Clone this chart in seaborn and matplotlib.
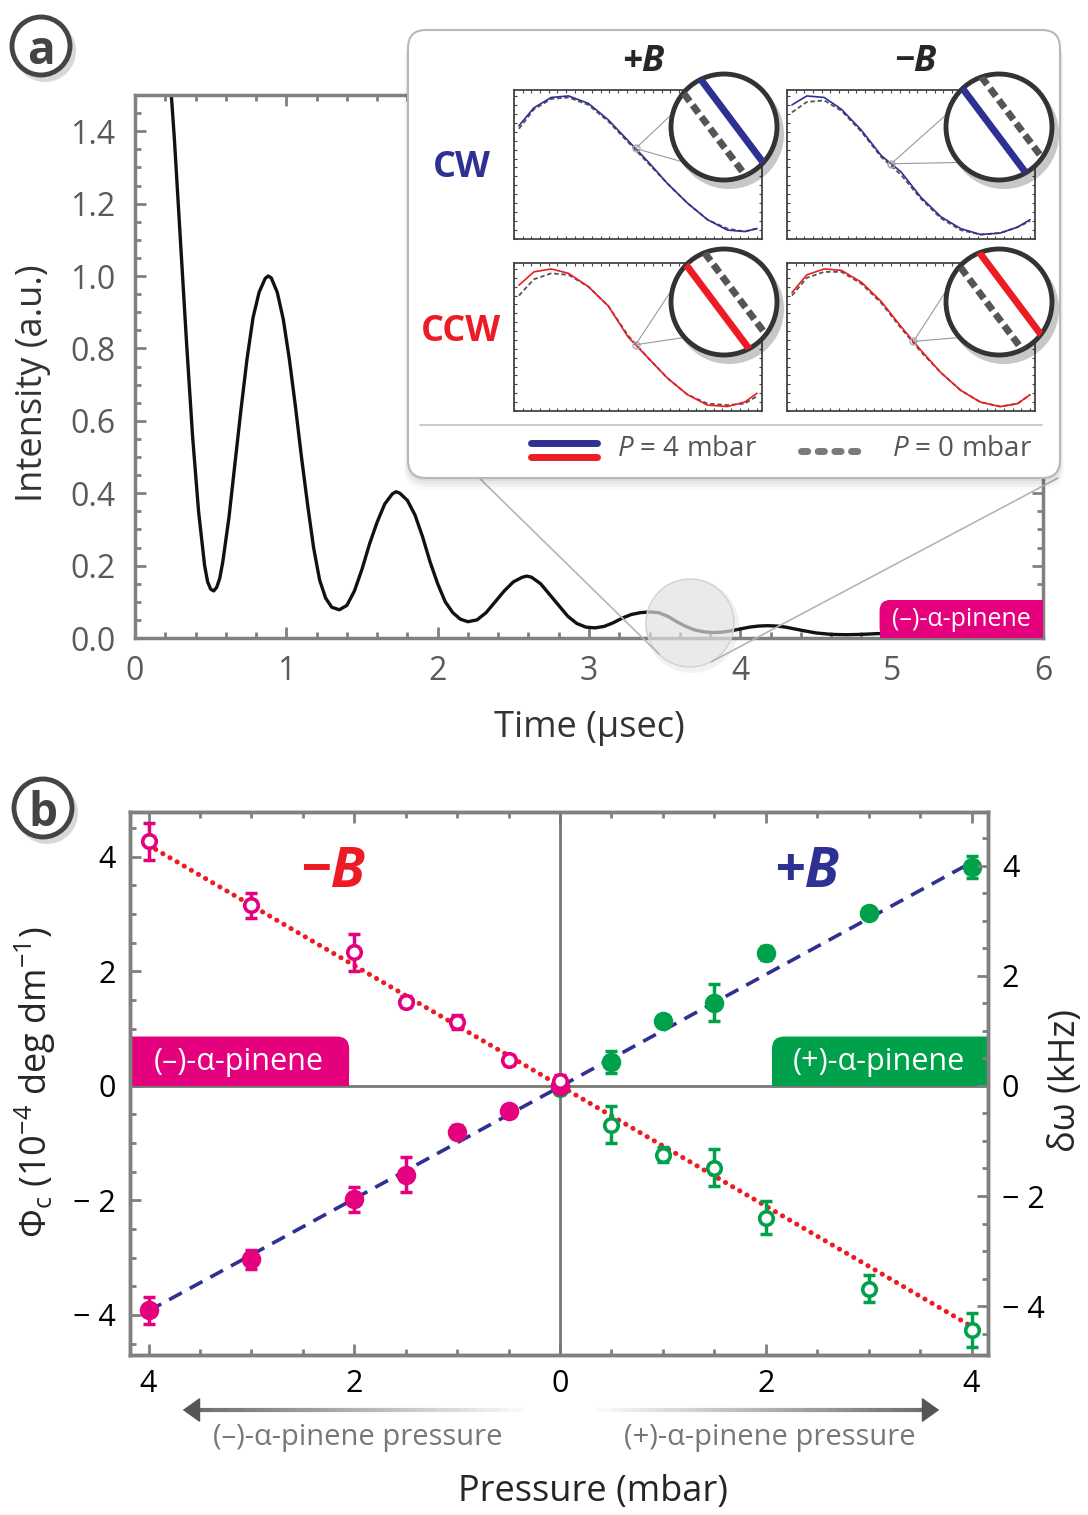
import numpy as np
import matplotlib
matplotlib.use("Agg")
import matplotlib.pyplot as plt
import seaborn as sns
from matplotlib.patches import FancyBboxPatch, Rectangle, Circle, ConnectionPatch, FancyArrowPatch
from matplotlib.lines import Line2D
from matplotlib.collections import LineCollection
from matplotlib.ticker import MultipleLocator, FixedLocator, FixedFormatter

sns.set_style('ticks')
plt.rcParams['font.family'] = ['Open Sans', 'DejaVu Sans']
plt.rcParams['mathtext.fontset'] = 'custom'
plt.rcParams['mathtext.rm'] = 'Open Sans'
plt.rcParams['mathtext.it'] = 'Open Sans:italic'
plt.rcParams['mathtext.bf'] = 'Open Sans:bold'

# ---- panel a : decay trace ----
time_us = [0.22, 0.26, 0.30, 0.34, 0.38, 0.42, 0.46, 0.48, 0.50, 0.52,
           0.54, 0.56, 0.58, 0.62, 0.66, 0.70, 0.74, 0.78, 0.82, 0.86,
           0.88, 0.90, 0.94, 0.98, 1.02, 1.06, 1.10, 1.14, 1.18, 1.22,
           1.26, 1.30, 1.35, 1.40, 1.45, 1.50, 1.55, 1.60, 1.65, 1.70,
           1.725, 1.75, 1.80, 1.85, 1.90, 1.95, 2.00, 2.05, 2.10, 2.15,
           2.20, 2.26, 2.32, 2.38, 2.44, 2.50, 2.56, 2.59, 2.62, 2.68,
           2.74, 2.80, 2.86, 2.92, 2.98, 3.04, 3.10, 3.16, 3.22, 3.28,
           3.34, 3.40, 3.46, 3.52, 3.58, 3.64, 3.70, 3.76, 3.82, 3.88,
           3.94, 4.00, 4.06, 4.12, 4.18, 4.24, 4.30, 4.36, 4.42, 4.50,
           4.60, 4.70, 4.80, 4.90, 5.00, 5.10]
intensity = [1.62, 1.38, 1.10, 0.82, 0.56, 0.35, 0.20, 0.155, 0.135, 0.13,
             0.14, 0.165, 0.21, 0.33, 0.48, 0.63, 0.77, 0.885, 0.955, 0.993,
             1.00, 0.995, 0.955, 0.88, 0.77, 0.64, 0.50, 0.37, 0.25, 0.16,
             0.11, 0.085, 0.078, 0.09, 0.13, 0.19, 0.26, 0.32, 0.37, 0.398,
             0.404, 0.40, 0.38, 0.34, 0.28, 0.21, 0.15, 0.10, 0.07, 0.052,
             0.045, 0.05, 0.07, 0.10, 0.13, 0.155, 0.168, 0.171, 0.168, 0.15,
             0.12, 0.09, 0.06, 0.04, 0.03, 0.028, 0.032, 0.042, 0.055, 0.065,
             0.07, 0.072, 0.07, 0.06, 0.045, 0.032, 0.022, 0.017, 0.015, 0.016,
             0.02, 0.025, 0.03, 0.033, 0.034, 0.033, 0.03, 0.025, 0.02, 0.014,
             0.01, 0.009, 0.01, 0.012, 0.013, 0.013]
a_yticks = [0.0, 0.2, 0.4, 0.6, 0.8, 1.0, 1.2, 1.4]

# ---- inset traces (normalised to each small frame) ----
inset_x = [0.02, 0.08, 0.15, 0.22, 0.30, 0.38, 0.46, 0.54, 0.62, 0.70, 0.78, 0.86, 0.93, 0.98]
cw_pB_4 = [0.76, 0.88, 0.95, 0.96, 0.91, 0.80, 0.66, 0.52, 0.37, 0.24, 0.13, 0.06, 0.05, 0.07]
cw_pB_0 = [0.74, 0.87, 0.94, 0.95, 0.90, 0.79, 0.65, 0.51, 0.37, 0.24, 0.13, 0.07, 0.05, 0.07]
cw_mB_4 = [0.90, 0.96, 0.95, 0.87, 0.73, 0.56, 0.45, 0.28, 0.15, 0.07, 0.03, 0.04, 0.08, 0.13]
cw_mB_0 = [0.85, 0.92, 0.93, 0.86, 0.72, 0.55, 0.43, 0.27, 0.14, 0.06, 0.03, 0.04, 0.08, 0.12]
ccw_pB_4 = [0.85, 0.94, 0.96, 0.93, 0.84, 0.71, 0.50, 0.36, 0.22, 0.11, 0.04, 0.03, 0.06, 0.12]
ccw_pB_0 = [0.78, 0.89, 0.93, 0.92, 0.84, 0.71, 0.51, 0.36, 0.22, 0.11, 0.05, 0.04, 0.05, 0.10]
ccw_mB_4 = [0.80, 0.92, 0.96, 0.95, 0.87, 0.74, 0.57, 0.41, 0.26, 0.14, 0.06, 0.03, 0.05, 0.11]
ccw_mB_0 = [0.78, 0.90, 0.94, 0.94, 0.86, 0.73, 0.56, 0.40, 0.26, 0.14, 0.06, 0.03, 0.05, 0.11]

# ---- panel b : circular birefringence vs pressure ----
neg_p = [-4, -3, -2, -1.5, -1, -0.5, 0]
neg_minusB = [4.27, 3.15, 2.33, 1.47, 1.12, 0.45, 0.08]
neg_minusB_err = [0.32, 0.22, 0.32, 0.10, 0.12, 0.08, 0.10]
neg_plusB = [-3.92, -3.03, -1.98, -1.55, -0.80, -0.44, 0.0]
neg_plusB_err = [0.24, 0.17, 0.22, 0.30, 0.12, 0.06, 0.05]
pos_p = [0, 0.5, 1, 1.5, 2, 3, 4]
pos_plusB = [0.0, 0.42, 1.13, 1.45, 2.32, 3.02, 3.82]
pos_plusB_err = [0.08, 0.19, 0.10, 0.32, 0.12, 0.06, 0.19]
pos_minusB = [-0.05, -0.68, -1.20, -1.43, -2.30, -3.54, -4.26]
pos_minusB_err = [0.10, 0.32, 0.13, 0.32, 0.28, 0.23, 0.30]
fit_p = [-4, 4]
fit_plusB = [-3.93, 3.90]
fit_minusB = [4.20, -4.20]
b_xticks = [-4, -2, 0, 2, 4]
b_xlabels = ['4', '2', '0', '2', '4']
b_yticks = [-4, -2, 0, 2, 4]
b_ylabels = ['\u2212 4', '\u2212 2', '0', '2', '4']

NAVY = '#2E3192'
RED = '#ED1C24'
MAG = '#E5007E'
GRN = '#00A14B'
GREY = '#808080'

W, H = 1088, 1515


def fx(x):
    return x / W


def fy(y):
    return 1 - y / H


def box(x0, y0, x1, y1):
    return [fx(x0), fy(y1), (x1 - x0) / W, (y1 - y0) / H]


def style_axis(ax, color=GREY):
    for s in ax.spines.values():
        s.set_color(color)
        s.set_linewidth(2.5)
    ax.tick_params(which='both', direction='in', color=color, width=2,
                   top=True, right=True)
    ax.tick_params(which='major', length=8)
    ax.tick_params(which='minor', length=4.5)


fig = plt.figure(figsize=(W / 100, H / 100), dpi=100)
cin = fig.dpi_scale_trans

# ================= panel a =================
ax_a = fig.add_axes(box(135, 95, 1043, 638))
sns.lineplot(x=time_us, y=intensity, ax=ax_a, color='#111111', lw=2.4)
ax_a.set_xlim(0, 6)
ax_a.set_ylim(0, 1.5)
ax_a.xaxis.set_major_locator(MultipleLocator(1))
ax_a.xaxis.set_minor_locator(MultipleLocator(0.2))
ax_a.yaxis.set_major_locator(FixedLocator(a_yticks))
ax_a.yaxis.set_major_formatter(FixedFormatter([f'{v:.1f}' for v in a_yticks]))
ax_a.yaxis.set_minor_locator(MultipleLocator(0.05))
style_axis(ax_a)
ax_a.tick_params(labelsize=23, labelcolor='#5a5a5a')
ax_a.tick_params(axis='y', pad=14)
ax_a.tick_params(axis='x', pad=12)
ax_a.set_xlabel('')
ax_a.set_ylabel('')
fig.text(fx(589), fy(728), 'Time (\u03bcsec)', ha='center', va='center',
         fontsize=26, color='#333333')
fig.text(fx(33), fy(383), 'Intensity (a.u.)', ha='center', va='center',
         fontsize=26, color='#333333', rotation=90)

# pinene tag in panel a
ax_a.add_patch(FancyBboxPatch((4.92, 0), 1.5, 0.105,
                              boxstyle='round,pad=0,rounding_size=0.07',
                              mutation_aspect=0.419, fc=MAG, ec='none', zorder=4))
ax_a.add_patch(Rectangle((4.92, 0), 1.5, 0.05, fc=MAG, ec='none', zorder=4))
ax_a.text(5.46, 0.05, '(\u2013)-\u03b1-pinene', color='white', fontsize=18,
          ha='center', va='center', zorder=5)

# magnifier circle on the trace
fig.add_artist(Circle((6.92, (H - 626) / 100), 0.47, transform=cin,
                      fc=(0.5, 0.5, 0.5, 0.10), ec='none', zorder=2))
fig.add_artist(Circle((6.90, (H - 623) / 100), 0.44, transform=cin,
                      fc=(0.90, 0.90, 0.90, 0.65), ec=(0.82, 0.82, 0.82), lw=1, zorder=2))
for (x0, y0), (x1, y1) in [((420, 420), (659, 654)), ((1058, 478), (711, 662))]:
    fig.add_artist(Line2D([fx(x0), fx(x1)], [fy(y0), fy(y1)], transform=fig.transFigure,
                          color='#b5b5b5', lw=1.2, zorder=3))

# ================= inset =================
for k, a in enumerate([0.05, 0.04, 0.03, 0.02]):
    d = 0.03 + 0.03 * k
    fig.add_artist(FancyBboxPatch((4.08 - d * 0.3, (H - 478) / 100 - d), 6.52 + d * 0.6, 4.48,
                                  boxstyle='round,pad=0,rounding_size=0.2', transform=cin,
                                  fc=(0, 0, 0, a), ec='none', zorder=4))
fig.add_artist(FancyBboxPatch((4.08, (H - 478) / 100), 6.52, 4.48,
                              boxstyle='round,pad=0,rounding_size=0.18', transform=cin,
                              fc='white', ec='#b8b8b8', lw=1.5, zorder=5))

panels = [
    ((514, 90, 762, 239), cw_pB_4, cw_pB_0, NAVY, 0.49, (724, 127), 10, -12),
    ((787, 90, 1035, 239), cw_mB_4, cw_mB_0, NAVY, 0.42, (999, 127), -6, 16),
    ((514, 263, 762, 411), ccw_pB_4, ccw_pB_0, RED, 0.49, (724, 302), -8, 14),
    ((787, 263, 1035, 411), ccw_mB_4, ccw_mB_0, RED, 0.51, (999, 302), 14, -10),
]
for (x0, y0, x1, y1), ys, y0s, col, sx, (cx, cy), off_s, off_d in panels:
    ax = fig.add_axes(box(x0, y0, x1, y1), zorder=6)
    sns.lineplot(x=inset_x, y=y0s, ax=ax, color='#555555', lw=1.3,
                 linestyle=(0, (2.5, 1.5)))
    sns.lineplot(x=inset_x, y=ys, ax=ax, color=col, lw=1.2)
    ax.set_xlim(0, 1)
    ax.set_ylim(0, 1)
    ax.set_xlabel('')
    ax.set_ylabel('')
    ax.xaxis.set_major_locator(MultipleLocator(0.035))
    ax.yaxis.set_major_locator(MultipleLocator(0.06))
    for s in ax.spines.values():
        s.set_color('#444444')
        s.set_linewidth(1.3)
    ax.tick_params(direction='in', length=2.5, width=0.8, color='#444444',
                   top=True, right=True, labelbottom=False, labelleft=False)
    sy = float(np.interp(sx, inset_x, ys))
    ax.plot(sx, sy, marker='o', ms=5, mfc='none', mec='#aaaaaa', mew=1)

    r = 53
    axc = fig.add_axes(box(cx - 62, cy - 62, cx + 62, cy + 62), zorder=8)
    axc.set_xlim(-62, 62)
    axc.set_ylim(-62, 62)
    axc.set_aspect('equal')
    axc.axis('off')
    axc.add_patch(Circle((5, -7), r + 2, fc=(0, 0, 0, 0.22), ec='none', clip_on=False))
    circ = Circle((0, 0), r, fc='white', ec='none')
    axc.add_patch(circ)
    dvec = np.array([0.6, -0.8])
    nvec = np.array([0.8, 0.6])
    for off, c, ls in [(off_d, '#555555', (0, (1.4, 0.7))), (off_s, col, '-')]:
        p0 = off * nvec - 80 * dvec
        p1 = off * nvec + 80 * dvec
        ln, = axc.plot([p0[0], p1[0]], [p0[1], p1[1]], color=c, lw=5, linestyle=ls)
        ln.set_clip_path(circ)
    axc.add_patch(Circle((0, 0), r, fc='none', ec='#333333', lw=3.5))
    for ang in (165, 222):
        t = np.deg2rad(ang)
        con = ConnectionPatch(xyA=(sx, sy), coordsA=ax.transData,
                              xyB=(r * np.cos(t), r * np.sin(t)), coordsB=axc.transData,
                              color='#9a9a9a', lw=0.8, zorder=7)
        fig.add_artist(con)

fig.text(fx(643), fy(62), '+B', ha='center', va='center', fontsize=26,
         fontweight='bold', style='italic', zorder=9)
fig.text(fx(915), fy(62), '\u2212B', ha='center', va='center', fontsize=26,
         fontweight='bold', style='italic', zorder=9)
fig.text(fx(462), fy(168), 'CW', ha='center', va='center', fontsize=26,
         fontweight='bold', color=NAVY, zorder=9)
fig.text(fx(461), fy(332), 'CCW', ha='center', va='center', fontsize=26,
         fontweight='bold', color=RED, zorder=9)

fig.add_artist(Line2D([fx(420), fx(1042)], [fy(425), fy(425)], transform=fig.transFigure,
                      color='#c0c0c0', lw=1.2, zorder=6))
fig.add_artist(Line2D([fx(531), fx(597)], [fy(443), fy(443)], transform=fig.transFigure,
                      color=NAVY, lw=5, solid_capstyle='round', zorder=6))
fig.add_artist(Line2D([fx(531), fx(597)], [fy(457), fy(457)], transform=fig.transFigure,
                      color=RED, lw=5, solid_capstyle='round', zorder=6))
fig.add_artist(Line2D([fx(801), fx(864)], [fy(451), fy(451)], transform=fig.transFigure,
                      color='#7a7a7a', lw=5, linestyle=(0, (0.9, 1.5)),
                      dash_capstyle='round', zorder=6))
fig.text(fx(617), fy(449), '$\\mathit{P}$ = 4 mbar', ha='left', va='center',
         fontsize=20, color='#555555', zorder=9)
fig.text(fx(892), fy(449), '$\\mathit{P}$ = 0 mbar', ha='left', va='center',
         fontsize=20, color='#555555', zorder=9)

# ================= panel b =================
ax_b = fig.add_axes(box(130, 812, 988, 1355))
ax_b.set_xlim(-4.18, 4.16)
ax_b.set_ylim(-4.7, 4.78)
ax_b.axhline(0, color='#777777', lw=2, zorder=1)
ax_b.axvline(0, color='#777777', lw=2, zorder=1)

sns.lineplot(x=fit_p, y=fit_plusB, ax=ax_b, color=NAVY, lw=2.6,
             linestyle=(0, (4, 2.5)), zorder=2)
sns.lineplot(x=fit_p, y=fit_minusB, ax=ax_b, color=RED, lw=3.6,
             linestyle=(0, (0.05, 1.6)), dash_capstyle='round', zorder=2)


def points(x, y, err, col, filled):
    ax_b.errorbar(x, y, yerr=err, fmt='none', ecolor=col, elinewidth=2.5,
                  capsize=4.5, capthick=2.5, zorder=3)
    if filled:
        sns.scatterplot(x=x, y=y, ax=ax_b, color=col, edgecolor=col, s=170,
                        linewidth=1, zorder=4)
    else:
        sns.scatterplot(x=x, y=y, ax=ax_b, color='white', edgecolor=col, s=95,
                        linewidth=2.6, zorder=4)


points(pos_p, pos_minusB, pos_minusB_err, GRN, False)
points(pos_p, pos_plusB, pos_plusB_err, GRN, True)
points(neg_p, neg_plusB, neg_plusB_err, MAG, True)
points(neg_p, neg_minusB, neg_minusB_err, MAG, False)
ax_b.set_xlabel('')
ax_b.set_ylabel('')

ax_b.xaxis.set_major_locator(FixedLocator(b_xticks))
ax_b.xaxis.set_major_formatter(FixedFormatter(b_xlabels))
ax_b.xaxis.set_minor_locator(MultipleLocator(0.5))
ax_b.yaxis.set_major_locator(FixedLocator(b_yticks))
ax_b.yaxis.set_major_formatter(FixedFormatter(b_ylabels))
ax_b.yaxis.set_minor_locator(MultipleLocator(0.5))
style_axis(ax_b)
ax_b.tick_params(right=False, labelsize=22, labelcolor='black', pad=10)

ax_r = ax_b.twinx()
ax_r.set_ylim(-4.89, 4.98)
ax_r.yaxis.set_major_locator(FixedLocator(b_yticks))
ax_r.yaxis.set_major_formatter(FixedFormatter(b_ylabels))
ax_r.yaxis.set_minor_locator(MultipleLocator(0.5))
style_axis(ax_r)
ax_r.tick_params(left=False, top=False, labelsize=22, labelcolor='black', pad=10)

# pinene tags
for x0, x_txt, txt, col, left in [(-4.6, -3.12, '(\u2013)-\u03b1-pinene', MAG, True),
                                   (2.06, 3.1, '(+)-\u03b1-pinene', GRN, False)]:
    wdt = (-2.05 - x0) if left else (4.6 - x0)
    ax_b.add_patch(FancyBboxPatch((x0, 0), wdt, 0.86,
                                  boxstyle='round,pad=0,rounding_size=0.12',
                                  mutation_aspect=1.8, fc=col, ec='none', zorder=1.5))
    ax_b.add_patch(Rectangle((x0, 0), wdt, 0.4, fc=col, ec='none', zorder=1.5))
    ax_b.text(x_txt, 0.42, txt, color='white', fontsize=22, ha='center',
              va='center', zorder=5)

ax_b.text(-2.21, 3.72, '\u2212B', color=RED, fontsize=40, fontweight='bold',
          style='italic', ha='center', va='center')
ax_b.text(2.4, 3.72, '+B', color=NAVY, fontsize=40, fontweight='bold',
          style='italic', ha='center', va='center')

fig.text(fx(35), fy(1082), '\u03a6$_\\mathrm{c}$ (10$^{-4}$ deg dm$^{-1}$)',
         rotation=90, ha='center', va='center', fontsize=26)
fig.text(fx(1066), fy(1080), '\u03b4\u03c9 (kHz)', rotation=90, ha='center',
         va='center', fontsize=26)

# fading pressure arrows
for xs, xe in [(525, 196), (597, 926)]:
    n = 40
    xx = np.linspace(xs, xe, n + 1)
    segs = [[(fx(xx[i]), fy(1410)), (fx(xx[i + 1]), fy(1410))] for i in range(n)]
    alphas = np.linspace(0.03, 0.85, n)
    cols = [(0.33, 0.33, 0.33, a) for a in alphas]
    fig.add_artist(LineCollection(segs, colors=cols, linewidths=3,
                                  transform=fig.transFigure))
    tip = 180 if xe < xs else 942
    fig.add_artist(FancyArrowPatch((fx(xe), fy(1410)), (fx(tip), fy(1410)),
                                   transform=fig.transFigure,
                                   arrowstyle='-|>,head_length=7,head_width=5',
                                   color='#555555', lw=1, mutation_scale=1.6))
fig.text(fx(358), fy(1437), '(\u2013)-\u03b1-pinene pressure', ha='center',
         va='center', fontsize=21, color='#777777')
fig.text(fx(770), fy(1437), '(+)-\u03b1-pinene pressure', ha='center',
         va='center', fontsize=21, color='#777777')
fig.text(fx(593), fy(1492), 'Pressure (mbar)', ha='center', va='center',
         fontsize=26)

# circled panel letters
for lbl, (lx, ly) in [('a', (41, 46)), ('b', (43, 808))]:
    fig.add_artist(Circle((lx / 100 + 0.04, (H - ly - 5) / 100), 0.31, transform=cin,
                          fc=(0.4, 0.4, 0.4, 0.25), ec='none', zorder=9))
    fig.add_artist(Circle((lx / 100, (H - ly) / 100), 0.29, transform=cin,
                          fc='white', ec='#444444', lw=3.5, zorder=10))
    fig.text(fx(lx), fy(ly), lbl, ha='center', va='center_baseline', fontsize=33,
             fontweight='bold', color='#444444', zorder=11)

fig.savefig('out.png', dpi=100)
